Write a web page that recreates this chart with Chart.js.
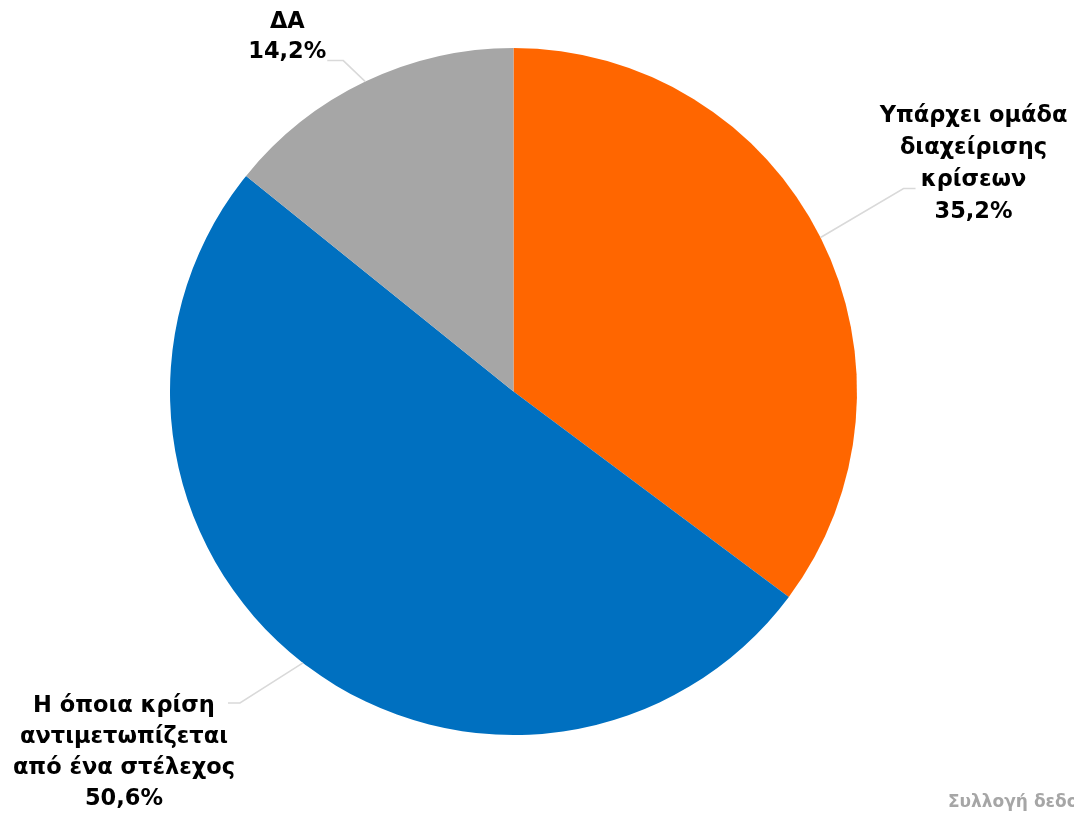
<!DOCTYPE html>
<html>
<head>
<meta charset="utf-8">
<script src="https://cdn.jsdelivr.net/npm/chart.js@4/dist/chart.umd.min.js"></script>
<style>
  html, body { margin: 0; padding: 0; background: #fff; }
  #wrap { width: 1074px; height: 814px; position: relative; }
</style>
</head>
<body>
<div id="wrap"><canvas id="pie"></canvas></div>
<script>
const labels = [
  ["Υπάρχει ομάδα", "διαχείρισης", "κρίσεων"],
  ["Η όποια κρίση", "αντιμετωπίζεται", "από ένα στέλεχος"],
  ["ΔΑ"]
];
const values = [35.2, 50.6, 14.2];
const colors = ["#FF6600", "#0070C0", "#A6A6A6"];

// leader line / text placement per slice (relative offsets)
const labelLayout = [
  { elbow: [83, -49], tail: 12, text: [58, -72], lh: 32 },
  { elbow: [-63, 40], tail: -12, text: [-104, 3], lh: 31 },
  { elbow: [-22, -21], tail: -16, text: [-40, -38], lh: 30 }
];

const fmt = v => v.toFixed(1).replace(".", ",") + "%";

const calloutPlugin = {
  id: "callouts",
  afterDraw(chart) {
    const ctx = chart.ctx;
    const meta = chart.getDatasetMeta(0);
    meta.data.forEach((arc, i) => {
      const p = arc.getProps(["x", "y", "startAngle", "endAngle", "outerRadius"], true);
      const mid = (p.startAngle + p.endAngle) / 2;
      const ex = p.x + Math.cos(mid) * p.outerRadius;
      const ey = p.y + Math.sin(mid) * p.outerRadius;
      const L = labelLayout[i];
      const bx = ex + L.elbow[0], by = ey + L.elbow[1];
      const tx = bx + L.tail;
      ctx.save();
      ctx.strokeStyle = "#D9D9D9";
      ctx.lineWidth = 1.5;
      ctx.beginPath();
      ctx.moveTo(ex, ey);
      ctx.lineTo(bx, by);
      ctx.lineTo(tx, by);
      ctx.stroke();
      const lines = labels[i].concat([fmt(values[i])]);
      ctx.fillStyle = "#000";
      ctx.font = "bold 22.5px 'DejaVu Sans'";
      ctx.textAlign = "center";
      ctx.textBaseline = "middle";
      const cx = tx + L.text[0];
      let cy = by + L.text[1];
      lines.forEach((t, k) => ctx.fillText(t, cx, cy + k * L.lh));
      ctx.restore();
    });
    ctx.save();
    ctx.fillStyle = "#A6A6A6";
    ctx.font = "bold 17px 'DejaVu Sans'";
    ctx.textAlign = "left";
    ctx.textBaseline = "middle";
    ctx.fillText("Συλλογή δεδομένων", 948, 803);
    ctx.restore();
  }
};

new Chart(document.getElementById("pie").getContext("2d"), {
  type: "pie",
  data: {
    labels: labels.map(l => l.join(" ")),
    datasets: [{
      data: values,
      backgroundColor: colors,
      borderWidth: 0
    }]
  },
  options: {
    responsive: true,
    maintainAspectRatio: false,
    animation: false,
    layout: { padding: { top: 48, bottom: 79, left: 170, right: 217 } },
    plugins: {
      legend: { display: false },
      tooltip: { enabled: false }
    }
  },
  plugins: [calloutPlugin]
});
</script>
</body>
</html>
